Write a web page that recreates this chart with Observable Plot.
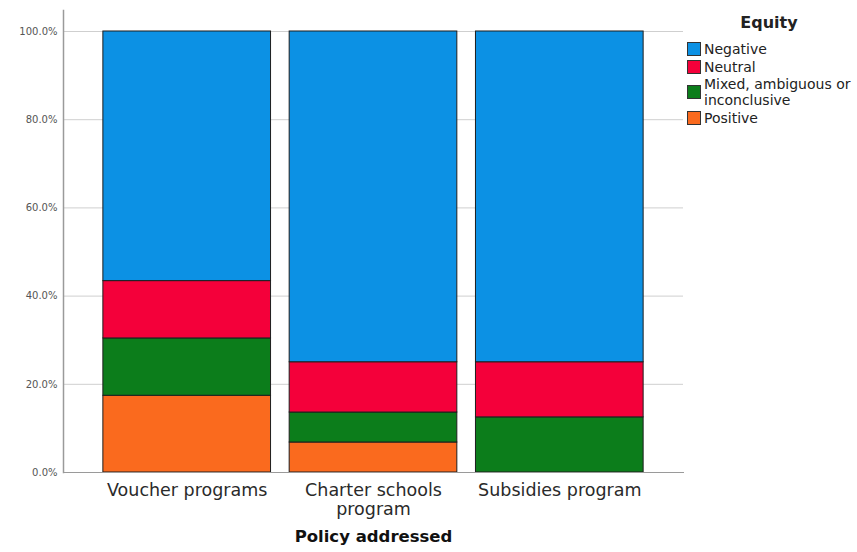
<!DOCTYPE html>
<html><head><meta charset="utf-8">
<script src="https://cdn.jsdelivr.net/npm/d3@7"></script>
<script src="https://cdn.jsdelivr.net/npm/@observablehq/plot@0.6"></script>
<style>
body{margin:0;background:#fff;font-family:"DejaVu Sans",sans-serif}
#wrap{position:relative;width:857px;height:552px;overflow:hidden}
#legend{position:absolute;left:687px;top:0;width:170px;font-family:"DejaVu Sans",sans-serif;color:#222}
#legend .title{position:absolute;left:0;top:13px;width:164px;text-align:center;font-weight:bold;font-size:16px}
#legend .item{position:absolute;left:0;display:flex;align-items:center;font-size:14px;line-height:16px;white-space:nowrap}
#legend .sw{width:12px;height:12px;border:1px solid #333;margin-right:3px;flex:none}
</style></head><body><div id="wrap"></div>
<script>
const policies = ["Voucher programs", "Charter schools program", "Subsidies program"];
const policyLabels = ["Voucher programs", "Charter schools\nprogram", "Subsidies program"];
const equityLevels = ["Positive", "Mixed, ambiguous or inconclusive", "Neutral", "Negative"];
const legendOrder = ["Negative", "Neutral", "Mixed, ambiguous or inconclusive", "Positive"];
const legendLabels = ["Negative", "Neutral", "Mixed, ambiguous or\ninconclusive", "Positive"];
const equityColors = ["#fa6a1e", "#0c7d1b", "#f4003a", "#0c91e4"];
const positive = [0.174, 0.068, 0.0];
const mixed = [0.130, 0.068, 0.125];
const neutral = [0.130, 0.114, 0.125];
const negative = [0.566, 0.750, 0.750];
const yTicks = [0, 0.2, 0.4, 0.6, 0.8, 1.0];

const series = [positive, mixed, neutral, negative];
const rows = [];
policies.forEach((p, i) => {
  equityLevels.forEach((e, j) => {
    const v = series[j][i];
    if (v > 0) rows.push({policy: p, equity: e, value: v});
  });
});

const chart = Plot.plot({
  width: 857,
  height: 552,
  marginLeft: 63,
  marginRight: 174,
  marginTop: 10,
  marginBottom: 80,
  style: {fontFamily: "DejaVu Sans, sans-serif", background: "#fff"},
  x: {domain: policies, paddingInner: 0.1, paddingOuter: 0.214, round: false, label: null},
  y: {domain: [0, 1.0476], label: null},
  color: {domain: equityLevels, range: equityColors},
  marks: [
    Plot.gridY(yTicks.filter(d => d > 0), {stroke: "#cfcfcf", strokeOpacity: 1}),
    Plot.barY(rows, Plot.stackY({
      x: "policy", y: "value", fill: "equity", z: "equity",
      order: equityLevels, stroke: "#1e1e1e", strokeWidth: 1
    })),
    Plot.frame({anchor: "left", stroke: "#9a9a9a", strokeWidth: 1.5}),
    Plot.frame({anchor: "bottom", stroke: "#9a9a9a", strokeWidth: 1}),
    Plot.axisY({ticks: yTicks, tickFormat: d3.format(".1%"), tickSize: 0, tickPadding: 6,
      fontSize: 10, fill: "#555", label: null}),
    Plot.axisX({tickSize: 0, tickPadding: 10, fontSize: 17.5, fill: "#2a2a2a", lineHeight: 1.08,
      tickFormat: d => policyLabels[policies.indexOf(d)], label: null}),
    Plot.text(["Policy addressed"], {frameAnchor: "bottom", dy: 69, fontSize: 16.5,
      fontWeight: "bold", fill: "#111", text: d => d})
  ]
});

const wrap = document.getElementById("wrap");
wrap.appendChild(chart);

const legend = document.createElement("div");
legend.id = "legend";
const t = document.createElement("div");
t.className = "title";
t.textContent = "Equity";
legend.appendChild(t);
const tops = [41, 59, 76, 110];
legendOrder.forEach((e, i) => {
  const item = document.createElement("div");
  item.className = "item";
  item.style.top = tops[i] + "px";
  const sw = document.createElement("div");
  sw.className = "sw";
  sw.style.background = equityColors[equityLevels.indexOf(e)];
  const lab = document.createElement("div");
  lab.style.whiteSpace = "pre";
  lab.textContent = legendLabels[i];
  item.appendChild(sw);
  item.appendChild(lab);
  legend.appendChild(item);
});
wrap.appendChild(legend);
</script>
</body></html>
